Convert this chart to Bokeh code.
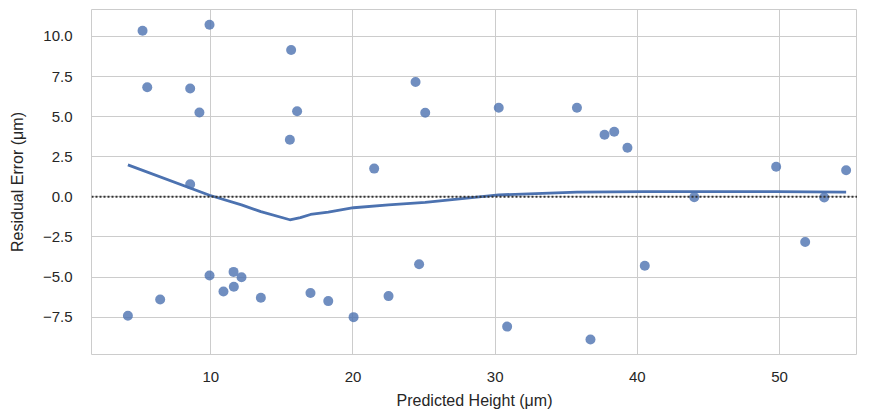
from bokeh.plotting import figure
from bokeh.models import Span, FixedTicker
from bokeh.embed import file_html
from bokeh.resources import INLINE

# scatter data: predicted height vs residual error
pred_height = [5.2, 5.53, 8.55, 9.2, 9.91, 8.55, 15.65, 15.56, 16.07, 21.49, 24.40,
               25.08, 30.25, 35.75, 37.69, 38.37, 39.3, 49.76, 54.68, 44.0, 53.14,
               4.17, 6.44, 9.91, 10.89, 11.6, 11.62, 12.16, 13.52, 17.01, 18.26,
               20.04, 22.5, 24.65, 30.84, 36.7, 40.52, 51.8]
residual = [10.35, 6.83, 6.75, 5.26, 10.73, 0.79, 9.15, 3.56, 5.34, 1.76, 7.16,
            5.24, 5.55, 5.55, 3.87, 4.06, 3.06, 1.88, 1.66, -0.02, -0.04,
            -7.41, -6.40, -4.91, -5.90, -4.68, -5.61, -5.01, -6.29, -6.0, -6.50,
            -7.5, -6.19, -4.2, -8.09, -8.9, -4.30, -2.82]

# lowess smoother
lowess_x = [4.17, 9.91, 12.16, 13.52, 15.56, 16.3, 17.01, 18.26, 20.04, 22.5, 25.08,
            30.25, 35.75, 40.52, 49.76, 54.68]
lowess_y = [1.99, 0.1, -0.5, -0.92, -1.43, -1.3, -1.1, -0.95, -0.68, -0.5, -0.35,
            0.12, 0.29, 0.32, 0.33, 0.29]

x_ticks = [10, 20, 30, 40, 50]
y_ticks = [-7.5, -5.0, -2.5, 0.0, 2.5, 5.0, 7.5, 10.0]
y_tick_labels = {t: ("\u2212" if t < 0 else "") + f"{abs(t):.1f}" for t in y_ticks}

FONT = "Liberation Sans"
TXT = "#262626"
GRID = "#cccccc"

p = figure(width=857, height=411, output_backend="svg", toolbar_location=None,
           x_range=(1.61, 55.48), y_range=(-9.83, 11.68),
           min_border_left=91, min_border_right=0, min_border_top=9, min_border_bottom=54,
           background_fill_color="white", border_fill_color="white",
           outline_line_color=GRID, outline_line_width=1)

p.scatter(pred_height, residual, size=10, color="#4C72B0", alpha=0.8, line_color=None)
p.line(lowess_x, lowess_y, line_color="#4C72B0", line_width=2.8)
p.add_layout(Span(location=0, dimension="width", line_color="#333333",
                  line_width=2, line_dash="2 2"))

for ax in (p.xaxis[0], p.yaxis[0]):
    ax.axis_line_color = None
    ax.major_tick_line_color = None
    ax.minor_tick_line_color = None
    ax.major_label_text_font = FONT
    ax.major_label_text_font_size = "15px"
    ax.major_label_text_color = TXT
    ax.axis_label_text_font = FONT
    ax.axis_label_text_font_size = "16px"
    ax.axis_label_text_font_style = "normal"
    ax.axis_label_text_color = TXT

p.xaxis.ticker = FixedTicker(ticks=x_ticks)
p.yaxis.ticker = FixedTicker(ticks=y_ticks)
p.yaxis.major_label_overrides = y_tick_labels
p.xaxis.axis_label = "Predicted Height (\u03bcm)"
p.yaxis.axis_label = "Residual Error (\u03bcm)"
p.xaxis.major_label_standoff = 11
p.xaxis.axis_label_standoff = 7
p.yaxis.major_label_standoff = 13
p.yaxis.axis_label_standoff = 14

p.xgrid.grid_line_color = GRID
p.ygrid.grid_line_color = GRID
p.xgrid.grid_line_width = 1
p.ygrid.grid_line_width = 1

open("out.html", "w").write(file_html(p, INLINE))
